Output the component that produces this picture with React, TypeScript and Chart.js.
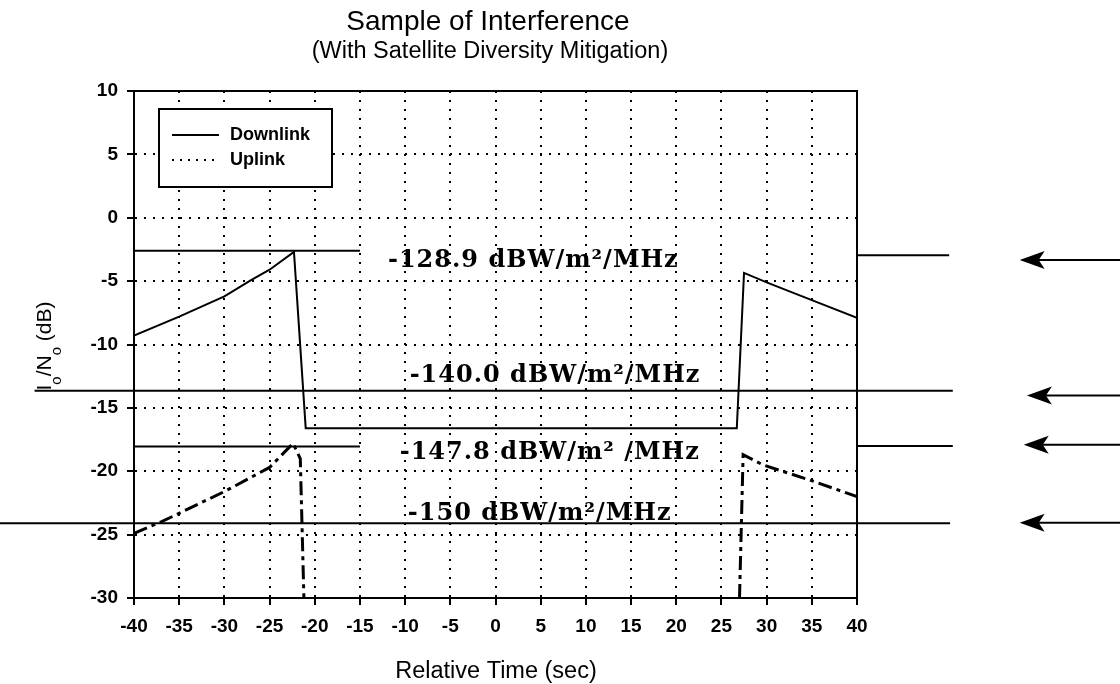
import { useEffect, useRef } from 'react';
import { Chart, registerables } from 'chart.js';

Chart.register(...registerables);

// ---- data ----
const downlinkX = [-40, -35, -30, -27, -25, -22.3, -21.0, 26.7, 27.5, 30, 35, 40];
const downlinkY = [-9.3, -7.8, -6.2, -4.9, -4.1, -2.7, -16.6, -16.6, -4.35, -5.1, -6.5, -7.9];

const uplinkLeftX = [-40, -37, -30, -25, -22.4, -21.6, -21.2];
const uplinkLeftY = [-24.9, -24.0, -21.6, -19.7, -17.8, -19.0, -30];
const uplinkRightX = [27.0, 27.4, 29.6, 34.8, 40];
const uplinkRightY = [-30, -18.7, -19.5, -20.7, -22.0];

const xTickMin = -40;
const xTickMax = 40;
const yTickMin = -30;
const yTickMax = 10;
const tickStep = 5;

// threshold reference lines (data units)
const segX1 = [-40, 40, -51, -40, 40, -56];
const segX2 = [-15, 50.2, 50.6, -15, 50.6, 50.3];
const segY = [-2.6, -2.95, -13.65, -18.05, -18.0, -24.1];

const thresholdLabels = ['-128.9 dBW/m²/MHz', '-140.0 dBW/m²/MHz', '-147.8 dBW/m² /MHz', '-150 dBW/m²/MHz'];
const labelX = [-11.9, -9.5, -10.6, -9.7];
const labelY = [-3.85, -12.95, -19.0, -23.85];

const arrowY = [-3.33, -14.03, -17.9, -24.07];
const arrowTipX = [58.0, 58.8, 58.45, 58.0];
const arrowEndX = 70;

const titleText = 'Sample of Interference';
const subtitleText = '(With Satellite Diversity Mitigation)';
const xTitle = 'Relative Time (sec)';
const legendLabels = ['Downlink', 'Uplink'];

const SANS = '"Liberation Sans", Arial, sans-serif';
const SERIF = '"DejaVu Serif", serif';

const overlay = {
  id: 'overlay',
  afterDraw(chart: any) {
    const { ctx, chartArea: a, scales } = chart;
    const xs = scales.x;
    const ys = scales.y;
    ctx.save();

    // frame
    ctx.strokeStyle = '#000';
    ctx.lineWidth = 2;
    ctx.setLineDash([]);
    ctx.strokeRect(a.left, a.top, a.right - a.left, a.bottom - a.top);

    // threshold lines
    ctx.lineWidth = 2;
    for (let i = 0; i < segY.length; i++) {
      const y = ys.getPixelForValue(segY[i]);
      ctx.beginPath();
      ctx.moveTo(xs.getPixelForValue(segX1[i]), y);
      ctx.lineTo(xs.getPixelForValue(segX2[i]), y);
      ctx.stroke();
    }

    // threshold labels
    ctx.fillStyle = '#000';
    ctx.font = 'bold 24px ' + SERIF;
    (ctx as any).letterSpacing = '1px';
    ctx.textAlign = 'left';
    ctx.textBaseline = 'alphabetic';
    for (let i = 0; i < thresholdLabels.length; i++) {
      ctx.fillText(thresholdLabels[i], xs.getPixelForValue(labelX[i]), ys.getPixelForValue(labelY[i]));
    }
    (ctx as any).letterSpacing = '0px';

    // arrows
    for (let i = 0; i < arrowY.length; i++) {
      const y = ys.getPixelForValue(arrowY[i]);
      const tx = xs.getPixelForValue(arrowTipX[i]);
      const ex = xs.getPixelForValue(arrowEndX);
      ctx.beginPath();
      ctx.moveTo(tx + 18, y);
      ctx.lineTo(ex, y);
      ctx.stroke();
      ctx.beginPath();
      ctx.moveTo(tx, y);
      ctx.lineTo(tx + 25, y - 9);
      ctx.lineTo(tx + 19, y);
      ctx.lineTo(tx + 25, y + 9);
      ctx.closePath();
      ctx.fill();
    }

    // legend
    const lx = a.left + 25;
    const ly = a.top + 18;
    ctx.fillStyle = '#fff';
    ctx.fillRect(lx, ly, 173, 78);
    ctx.strokeStyle = '#000';
    ctx.lineWidth = 2;
    ctx.strokeRect(lx, ly, 173, 78);
    ctx.beginPath();
    ctx.moveTo(lx + 13, ly + 26);
    ctx.lineTo(lx + 60, ly + 26);
    ctx.stroke();
    ctx.setLineDash([2, 6]);
    ctx.beginPath();
    ctx.moveTo(lx + 13, ly + 51);
    ctx.lineTo(lx + 60, ly + 51);
    ctx.stroke();
    ctx.setLineDash([]);
    ctx.fillStyle = '#000';
    ctx.font = 'bold 18px ' + SANS;
    ctx.textBaseline = 'middle';
    ctx.fillText(legendLabels[0], lx + 71, ly + 26);
    ctx.fillText(legendLabels[1], lx + 71, ly + 51);

    // titles
    ctx.textAlign = 'center';
    ctx.font = '28px ' + SANS;
    ctx.fillText(titleText, 488, 22);
    ctx.font = '23.5px ' + SANS;
    ctx.fillText(subtitleText, 490, 52);
    ctx.font = '23.5px ' + SANS;
    ctx.fillText(xTitle, 496, 672);

    // y title: I_o/N_o (dB)
    ctx.translate(45, 346);
    ctx.rotate(-Math.PI / 2);
    const main = '21px ' + SANS;
    const sub = '15px ' + SANS;
    const parts: [string, boolean][] = [['I', false], ['o', true], ['/N', false], ['o', true], [' (dB)', false]];
    let total = 0;
    for (const [t, s] of parts) {
      ctx.font = s ? sub : main;
      total += ctx.measureText(t).width;
    }
    let cx = -total / 2;
    ctx.textAlign = 'left';
    for (const [t, s] of parts) {
      ctx.font = s ? sub : main;
      ctx.fillText(t, cx, s ? 12 : 0);
      cx += ctx.measureText(t).width;
    }
    ctx.restore();
  },
};

export default function App() {
  const ref = useRef<HTMLCanvasElement | null>(null);
  useEffect(() => {
    if (!ref.current) return;
    const tickFont = { family: SANS, size: 19, weight: 'bold' as const };
    const chart = new Chart(ref.current, {
      type: 'line',
      data: {
        datasets: [
          {
            label: 'Downlink',
            data: downlinkX.map((x, i) => ({ x, y: downlinkY[i] })),
            borderColor: '#000',
            borderWidth: 2,
            pointRadius: 0,
            tension: 0,
          },
          {
            label: 'Uplink',
            data: uplinkLeftX.map((x, i) => ({ x, y: uplinkLeftY[i] })),
            borderColor: '#000',
            borderWidth: 3,
            borderDash: [14, 5, 4, 5],
            pointRadius: 0,
            tension: 0,
          },
          {
            label: 'Uplink (after handover)',
            data: uplinkRightX.map((x, i) => ({ x, y: uplinkRightY[i] })),
            borderColor: '#000',
            borderWidth: 3,
            borderDash: [14, 5, 4, 5],
            pointRadius: 0,
            tension: 0,
          },
        ],
      },
      options: {
        animation: false,
        responsive: false,
        events: [],
        layout: { padding: { left: 0, top: 91, right: 263, bottom: 0 } },
        plugins: { legend: { display: false }, title: { display: false }, tooltip: { enabled: false } },
        scales: {
          x: {
            type: 'linear',
            min: xTickMin,
            max: xTickMax,
            ticks: { stepSize: tickStep, color: '#000', font: tickFont, padding: 10, maxRotation: 0 },
            grid: { color: '#000', lineWidth: 2, tickLength: 7, tickWidth: 2, tickColor: '#000', tickBorderDash: [] },
            border: { display: true, color: '#000', width: 2, dash: [2, 7] },
            afterFit: (s: any) => { s.height = 86; },
          },
          y: {
            type: 'linear',
            min: yTickMin,
            max: yTickMax,
            ticks: { stepSize: tickStep, color: '#000', font: tickFont, padding: 9 },
            grid: { color: '#000', lineWidth: 2, tickLength: 7, tickWidth: 2, tickColor: '#000', tickBorderDash: [] },
            border: { display: true, color: '#000', width: 2, dash: [2, 7] },
            afterFit: (s: any) => { s.width = 134; },
          },
        },
      },
      plugins: [overlay],
    });
    return () => chart.destroy();
  }, []);
  return (
    <div style={{ position: 'fixed', left: 0, top: 0, width: 1120, height: 684, background: '#fff' }}>
      <canvas ref={ref} width={1120} height={684} />
    </div>
  );
}
